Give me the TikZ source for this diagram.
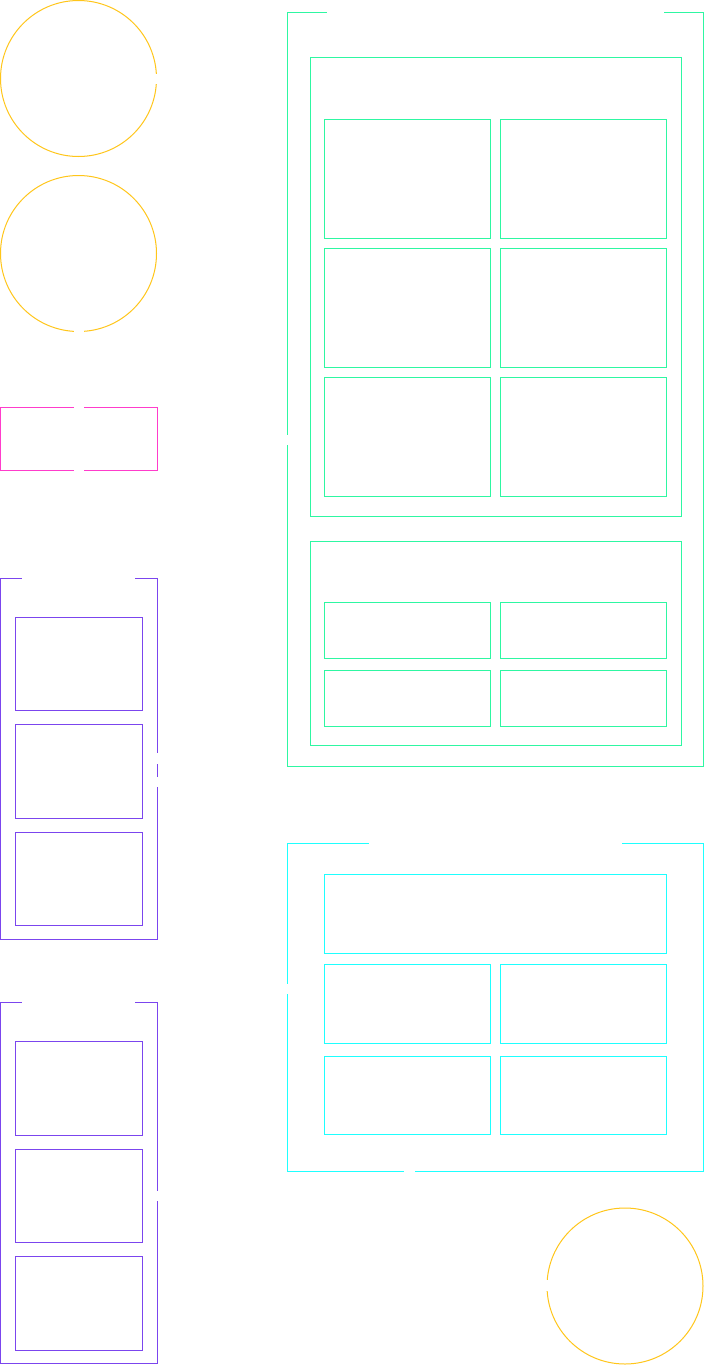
\documentclass[tikz,border=0pt]{standalone}
\usetikzlibrary{fit}
\definecolor{cyel}{HTML}{FFC61A}
\definecolor{cgrn}{HTML}{2EF7A2}
\definecolor{cpnk}{HTML}{FF3CCB}
\definecolor{cpur}{HTML}{7B45EE}
\definecolor{ccyn}{HTML}{1EFFFF}
\tikzset{
  shp/.style={draw, line width=1pt, inner sep=0pt, outer sep=0pt, fill=none},
  circ/.style={shp, circle, cyel, minimum size=156pt},
  pbox/.style={shp, rectangle, cpur},
  gbox/.style={shp, rectangle, cgrn},
  cbox/.style={shp, rectangle, ccyn},
  kbox/.style={shp, rectangle, cpnk},
  gapmask/.style={fill=white, draw=none, inner sep=0pt, outer sep=0pt}
}
\begin{document}
\begin{tikzpicture}[x=1pt,y=-1pt]
\useasboundingbox[fill=white] (0,0) rectangle (704,1365);
% circles
\node[circ] (c1) at (78.5,78.5) {};
\node[circ] (c2) at (78.5,253.5) {};
\node[circ] (c3) at (625,1286) {};
% pink box
\node[kbox, minimum width=157pt, minimum height=63pt] (pk) at (78.5,438.5) {};
% purple group 1
\node[pbox, minimum width=157pt, minimum height=361pt] (pg1) at (78.5,758.5) {};
\node[pbox, minimum width=127pt, minimum height=93pt] (p11) at (78.5,663.5) {};
\node[pbox, minimum width=127pt, minimum height=94pt] (p12) at (78.5,771) {};
\node[pbox, minimum width=127pt, minimum height=93pt] (p13) at (78.5,878.5) {};
% purple group 2
\node[pbox, minimum width=157pt, minimum height=361pt] (pg2) at (78.5,1182.5) {};
\node[pbox, minimum width=127pt, minimum height=94pt] (p21) at (78.5,1088) {};
\node[pbox, minimum width=127pt, minimum height=93pt] (p22) at (78.5,1195.5) {};
\node[pbox, minimum width=127pt, minimum height=94pt] (p23) at (78.5,1303) {};
% green group
\node[gbox, minimum width=416pt, minimum height=754pt] (gg) at (495,389) {};
\node[gbox, minimum width=371pt, minimum height=459pt] (ga) at (495.5,286.5) {};
\node[gbox, minimum width=166pt, minimum height=119pt] (ga1) at (407,178.5) {};
\node[gbox, minimum width=166pt, minimum height=119pt] (ga2) at (583,178.5) {};
\node[gbox, minimum width=166pt, minimum height=119pt] (ga3) at (407,307.5) {};
\node[gbox, minimum width=166pt, minimum height=119pt] (ga4) at (583,307.5) {};
\node[gbox, minimum width=166pt, minimum height=119pt] (ga5) at (407,436.5) {};
\node[gbox, minimum width=166pt, minimum height=119pt] (ga6) at (583,436.5) {};
\node[gbox, minimum width=371pt, minimum height=204pt] (gb) at (495.5,643) {};
\node[gbox, minimum width=166pt, minimum height=56pt] (gb1) at (407,630) {};
\node[gbox, minimum width=166pt, minimum height=56pt] (gb2) at (583,630) {};
\node[gbox, minimum width=166pt, minimum height=56pt] (gb3) at (407,698) {};
\node[gbox, minimum width=166pt, minimum height=56pt] (gb4) at (583,698) {};
% cyan group
\node[cbox, minimum width=416pt, minimum height=328pt] (cg) at (495,1007) {};
\node[cbox, minimum width=342pt, minimum height=79pt] (cw) at (495,913.5) {};
\node[cbox, minimum width=166pt, minimum height=79pt] (cc1) at (407,1003.5) {};
\node[cbox, minimum width=166pt, minimum height=79pt] (cc2) at (583,1003.5) {};
\node[cbox, minimum width=166pt, minimum height=78pt] (cc3) at (407,1095) {};
\node[cbox, minimum width=166pt, minimum height=78pt] (cc4) at (583,1095) {};
% gaps in outlines
\node[gapmask, fit={(152,73.5) (161,84)}] (m1) {};
\node[gapmask, fit={(74,326) (84,336)}] (m2) {};
\node[gapmask, fit={(73.5,402) (84,412)}] (m3) {};
\node[gapmask, fit={(73.5,465) (84,475)}] (m4) {};
\node[gapmask, fit={(21.5,573) (135,583)}] (m5) {};
\node[gapmask, fit={(152,753) (162,764)}] (m6) {};
\node[gapmask, fit={(152,776.5) (162,787)}] (m7) {};
\node[gapmask, fit={(21.5,997) (135,1007)}] (m8) {};
\node[gapmask, fit={(152,1190.5) (162,1201)}] (m9) {};
\node[gapmask, fit={(326.5,7) (664,17)}] (m10) {};
\node[gapmask, fit={(282,434.5) (292,445)}] (m11) {};
\node[gapmask, fit={(368.5,838) (622,848)}] (m12) {};
\node[gapmask, fit={(282,983.5) (292,994)}] (m13) {};
\node[gapmask, fit={(404,1166) (415,1176)}] (m14) {};
\node[gapmask, fit={(542,1280) (552,1291)}] (m15) {};
\end{tikzpicture}
\end{document}
